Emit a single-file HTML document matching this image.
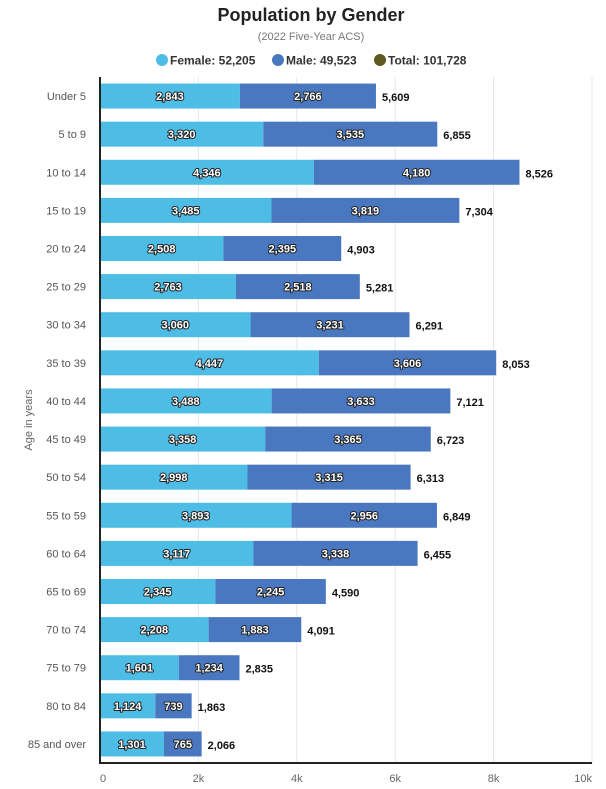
<!DOCTYPE html>
<html><head><meta charset="utf-8">
<style>
body{margin:0;background:#fff;font-family:"Liberation Sans",Arial,sans-serif;}
svg text{font-family:"Liberation Sans",Arial,sans-serif;}
</style></head>
<body>
<svg id="chart" width="606" height="784" viewBox="0 0 606 784" xmlns="http://www.w3.org/2000/svg">
  <text x="311" y="21" text-anchor="middle" font-size="18" font-weight="bold" fill="#222">Population by Gender</text>
  <text x="311" y="40" text-anchor="middle" font-size="11" fill="#777">(2022 Five-Year ACS)</text>
  <g font-size="12" font-weight="bold" fill="#333">
    <g><circle cx="162" cy="60" r="6" fill="#4dbde6"/><text x="170" y="64.5">Female: 52,205</text></g>
    <g><circle cx="278" cy="60" r="6" fill="#4a78c0"/><text x="286" y="64.5">Male: 49,523</text></g>
    <g><circle cx="380" cy="60" r="6" fill="#5c5a1e"/><text x="388" y="64.5">Total: 101,728</text></g>
  </g>
  <text transform="translate(32,420) rotate(-90)" text-anchor="middle" font-size="11" fill="#666">Age in years</text>
  <g id="grid"></g><g id="bars"></g><g id="axes"></g>
</svg>
<script>
const categories=["Under 5","5 to 9","10 to 14","15 to 19","20 to 24","25 to 29","30 to 34","35 to 39","40 to 44","45 to 49","50 to 54","55 to 59","60 to 64","65 to 69","70 to 74","75 to 79","80 to 84","85 and over"];
const female=[2843,3320,4346,3485,2508,2763,3060,4447,3488,3358,2998,3893,3117,2345,2208,1601,1124,1301];
const male=[2766,3535,4180,3819,2395,2518,3231,3606,3633,3365,3315,2956,3338,2245,1883,1234,739,765];
const ticks=[0,2000,4000,6000,8000,10000];
const tickLabels=["0","2k","4k","6k","8k","10k"];
const NS="http://www.w3.org/2000/svg";
const X0=100,X1=592,TOP=77,BOT=763,MAX=10000;
const xs=v=>X0+(v/MAX)*(X1-X0);
const band=(BOT-TOP)/categories.length;
const yc=i=>TOP+band*(i+0.5);
const fmt=v=>v.toLocaleString("en-US");
function mk(tag,attrs,parent){const e=document.createElementNS(NS,tag);for(const k in attrs)e.setAttribute(k,attrs[k]);parent.appendChild(e);return e;}
const grid=document.getElementById("grid"),bars=document.getElementById("bars"),axes=document.getElementById("axes");
ticks.forEach((t,i)=>{
  if(t>0){const l=mk("line",{x1:xs(t),x2:xs(t),y1:TOP,y2:BOT,stroke:"#e6e6e6","stroke-width":1},grid);
  
  }
  const tx=mk("text",{x:xs(t),y:782,"text-anchor":t===MAX?"end":(t===0?"start":"middle"),"font-size":11,fill:"#666"},axes);
  tx.textContent=tickLabels[i];
  
  
});
const bh=25;
categories.forEach((c,i)=>{
  const y=yc(i);
  const lab=mk("text",{x:86,y:y+4,"text-anchor":"end","font-size":11,fill:"#555"},axes);
  lab.textContent=c;
  
  
  const f=mk("rect",{x:X0,y:y-bh/2,width:xs(female[i])-X0,height:bh,fill:"#4dbde6"},bars);
  
  
  const m=mk("rect",{x:xs(female[i]),y:y-bh/2,width:xs(female[i]+male[i])-xs(female[i]),height:bh,fill:"#4a78c0"},bars);
  
  
  [[female[i],X0,xs(female[i])],[male[i],xs(female[i]),xs(female[i]+male[i])]].forEach(([v,a,b])=>{
    const t=mk("text",{x:(a+b)/2,y:y+4,"text-anchor":"middle","font-size":11,"font-weight":"bold",fill:"#fff",stroke:"#222","stroke-width":2,"paint-order":"stroke","stroke-linejoin":"round"},bars);
    t.textContent=fmt(v);
    
    
  });
  const tot=mk("text",{x:xs(female[i]+male[i])+6,y:y+5,"font-size":11,"font-weight":"bold",fill:"#111"},bars);
  tot.textContent=fmt(female[i]+male[i]);
  
  
});
const ya=mk("line",{x1:X0,x2:X0,y1:TOP,y2:BOT,stroke:"#222","stroke-width":2},axes);


const xa=mk("line",{x1:X0-1,x2:X1,y1:BOT,y2:BOT,stroke:"#222","stroke-width":2},axes);


</script>
</body></html>
